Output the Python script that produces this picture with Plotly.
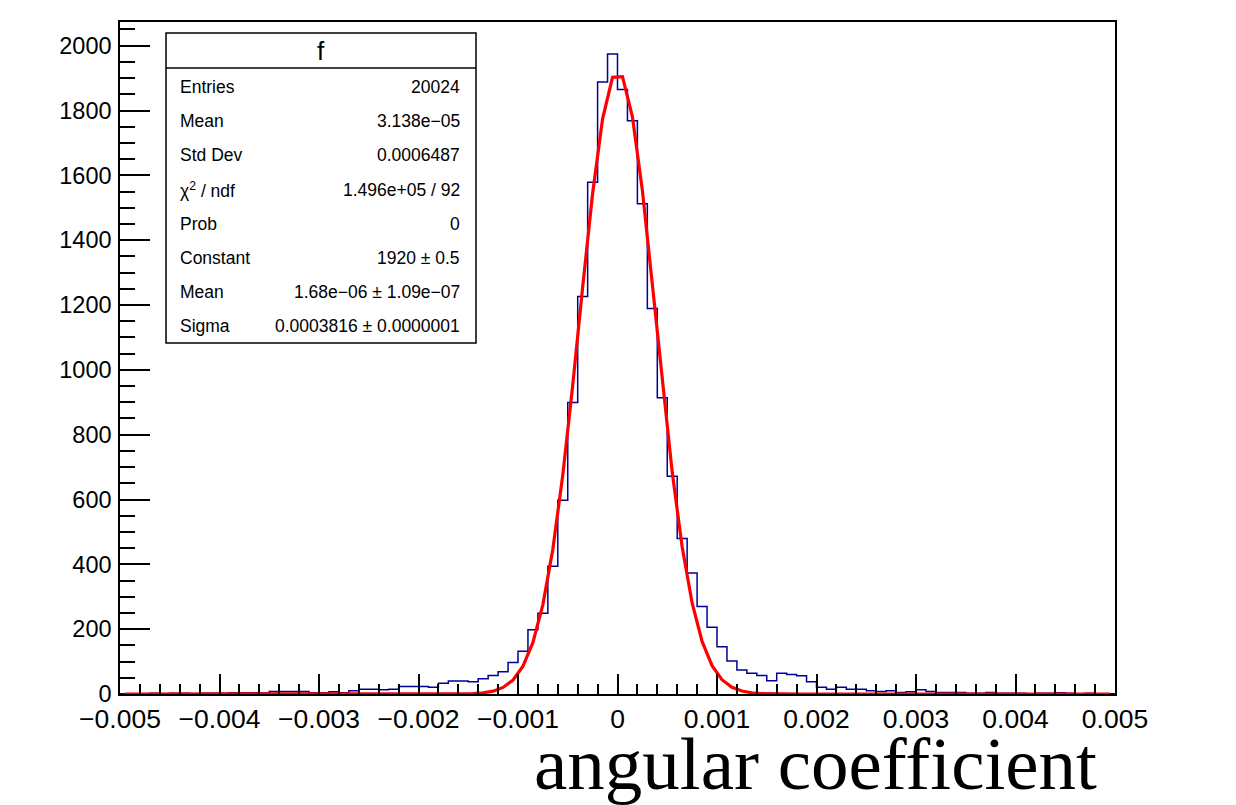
import plotly.graph_objects as go
import numpy as np

# ---------------- data ----------------
x_min, x_max, n_bins = -0.005, 0.005, 100
counts = [1, 1, 1, 2, 1, 2, 2, 1, 2, 2,
          2, 4, 4, 4, 3, 8, 8, 8, 8, 4,
          4, 7, 4, 10, 15, 15, 13, 15, 23, 23,
          23, 21, 33, 40, 40, 38, 47, 57, 69, 97,
          132, 198, 249, 394, 598, 899, 1226, 1579, 1888, 1974,
          1865, 1768, 1512, 1189, 914, 672, 480, 373, 270, 206,
          146, 102, 74, 64, 57, 41, 64, 60, 56, 38,
          21, 15, 21, 15, 15, 10, 8, 10, 5, 7,
          13, 8, 5, 5, 5, 2, 2, 5, 2, 2,
          2, 1, 2, 2, 4, 2, 1, 2, 1, 1]

# fit parameters (from stats box)
fit_constant = 1920.0
fit_mean = 1.68e-06
fit_sigma = 0.0003816

x_tickvals = [-0.005, -0.004, -0.003, -0.002, -0.001, 0, 0.001, 0.002, 0.003, 0.004, 0.005]
x_ticktext = ["\u22120.005", "\u22120.004", "\u22120.003", "\u22120.002", "\u22120.001",
              "0", "0.001", "0.002", "0.003", "0.004", "0.005"]
y_tickvals = [0, 200, 400, 600, 800, 1000, 1200, 1400, 1600, 1800, 2000]

stats_labels = ["Entries", "Mean", "Std Dev", "\u03c7<sup>2</sup> / ndf", "Prob",
                "Constant", "Mean", "Sigma"]
stats_values = ["20024", "3.138e\u221205", "0.0006487", "1.496e+05 / 92", "0",
                "1920 \u00b1 0.5", "1.68e\u221206 \u00b1 1.09e\u221207",
                "0.0003816 \u00b1 0.0000001"]
stats_title = "f"
x_title = "angular coefficient"

# ---------------- geometry ----------------
W, H = 1236, 805
L, R, T, B = 120, 1115, 22, 694
y_max = 2073


def px(xp):
    return (xp - L) / (R - L)


def py(yp):
    return (B - yp) / (B - T)


bw = (x_max - x_min) / n_bins
edges = [x_min + i * bw for i in range(n_bins + 1)]
centers = [x_min + (i + 0.5) * bw for i in range(n_bins)]
fit_y = [fit_constant * np.exp(-0.5 * ((c - fit_mean) / fit_sigma) ** 2) for c in centers]

fig = go.Figure()
fig.add_trace(go.Scatter(x=edges, y=counts + [counts[-1]], mode="lines",
                         line=dict(shape="hv", color="#000099", width=1.5),
                         hoverinfo="skip", showlegend=False))
fig.add_trace(go.Scatter(x=centers, y=fit_y, mode="lines",
                         line=dict(color="#ff0000", width=3.2),
                         hoverinfo="skip", showlegend=False))

fam = "Liberation Sans, Arial, sans-serif"

fig.update_layout(
    width=W, height=H,
    margin=dict(l=L, r=W - R, t=T, b=H - B, pad=0),
    paper_bgcolor="white", plot_bgcolor="white",
    xaxis=dict(range=[x_min, x_max], showgrid=False, zeroline=False,
               showline=True, linecolor="black", linewidth=1.5, mirror=True,
               ticks="inside", ticklen=20, tickwidth=1.5, tickcolor="black",
               tickvals=x_tickvals, ticktext=x_ticktext,
               tickfont=dict(family=fam, size=26.5, color="black"),
               minor=dict(dtick=0.0002, tick0=-0.005, ticks="inside", ticklen=10,
                          tickwidth=1.5, tickcolor="black", showgrid=False),
               ticklabelstandoff=0),
    yaxis=dict(range=[0, y_max], showgrid=False, zeroline=False,
               showline=True, linecolor="black", linewidth=1.5, mirror=True,
               ticks="inside", ticklen=30, tickwidth=1.5, tickcolor="black",
               tickvals=y_tickvals,
               tickfont=dict(family=fam, size=23.5, color="black"),
               minor=dict(dtick=50, tick0=0, ticks="inside", ticklen=15,
                          tickwidth=1.5, tickcolor="black", showgrid=False),
               ticklabelstandoff=2),
)

# stats box
bx0, bx1, by0, by1, bsep = 166, 476, 33, 343, 68
fig.add_shape(type="rect", xref="paper", yref="paper",
              x0=px(bx0), x1=px(bx1), y0=py(by1), y1=py(by0),
              line=dict(color="black", width=1.5), fillcolor="white", layer="above")
fig.add_shape(type="line", xref="paper", yref="paper",
              x0=px(bx0), x1=px(bx1), y0=py(bsep), y1=py(bsep),
              line=dict(color="black", width=1.5), layer="above")
fig.add_annotation(xref="paper", yref="paper", x=px((bx0 + bx1) / 2), y=py(51),
                   text=stats_title, showarrow=False, xanchor="center", yanchor="middle",
                   font=dict(family=fam, size=26, color="black"))
row_y0, row_dy = 87, 34.2
sfont = dict(family=fam, size=17.5, color="black")
for i, (lab, val) in enumerate(zip(stats_labels, stats_values)):
    yy = py(row_y0 + i * row_dy)
    fig.add_annotation(xref="paper", yref="paper", x=px(178), y=yy, text=lab,
                       showarrow=False, xanchor="left", yanchor="middle", font=sfont)
    fig.add_annotation(xref="paper", yref="paper", x=px(462), y=yy, text=val,
                       showarrow=False, xanchor="right", yanchor="middle", font=sfont)

# x title
fig.add_annotation(xref="paper", yref="paper", x=px(815), y=py(763), text=x_title,
                   showarrow=False, xanchor="center", yanchor="middle",
                   font=dict(family="Liberation Serif, Times New Roman, serif", size=75,
                             color="black"))

fig.write_html("out.html")
